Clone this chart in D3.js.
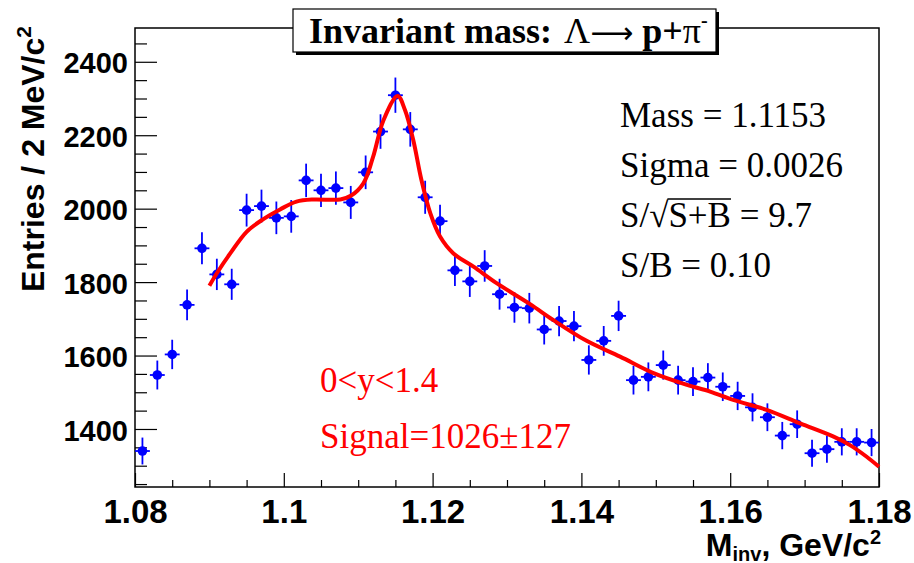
<!DOCTYPE html>
<html>
<head>
<meta charset="utf-8">
<script src="https://cdn.jsdelivr.net/npm/d3@7"></script>
<style>
  body { margin: 0; background: #fff; }
  svg { display: block; }
</style>
</head>
<body>
<svg width="914" height="563"></svg>
<script>
// bin centres (2 MeV bins) and entries
const massBins = [1.081, 1.083, 1.085, 1.087, 1.089, 1.091, 1.093, 1.095, 1.097, 1.099,
                  1.101, 1.103, 1.105, 1.107, 1.109, 1.111, 1.113, 1.115, 1.117, 1.119,
                  1.121, 1.123, 1.125, 1.127, 1.129, 1.131, 1.133, 1.135, 1.137, 1.139,
                  1.141, 1.143, 1.145, 1.147, 1.149, 1.151, 1.153, 1.155, 1.157, 1.159,
                  1.161, 1.163, 1.165, 1.167, 1.169, 1.171, 1.173, 1.175, 1.177, 1.179];
const entries = [1340, 1547, 1603, 1738, 1892, 1821, 1794, 1996, 2007, 1975,
                 1979, 2077, 2050, 2056, 2017, 2099, 2210, 2309, 2216, 2031,
                 1966, 1832, 1802, 1844, 1767, 1731, 1729, 1671, 1694, 1680,
                 1588, 1640, 1708, 1533, 1542, 1574, 1533, 1529, 1540, 1515,
                 1490, 1459, 1432, 1382, 1413, 1334, 1345, 1365, 1365, 1363];

// fit curve
const fitMass = [1.0900, 1.0910, 1.0928, 1.0950, 1.0972, 1.0995, 1.1017, 1.1040, 1.1076, 1.1090,
                 1.1107, 1.1120, 1.1134, 1.1153, 1.1163, 1.1174, 1.1185, 1.1197, 1.1210, 1.1228,
                 1.1255, 1.1286, 1.1331, 1.1362, 1.1407, 1.1452, 1.1497, 1.1542, 1.1573, 1.1604,
                 1.1649, 1.1694, 1.1739, 1.1761, 1.1783, 1.1800];
const fitValue = [1790, 1824, 1878, 1937, 1971, 1998, 2019, 2025, 2025, 2035,
                  2069, 2141, 2241, 2307, 2268, 2187, 2078, 1987, 1924, 1878,
                  1842, 1797, 1740, 1697, 1640, 1597, 1552, 1520, 1502, 1479,
                  1452, 1415, 1379, 1356, 1325, 1297];

const xTicks = [1.08, 1.10, 1.12, 1.14, 1.16, 1.18];
const xTickLabels = ["1.08", "1.1", "1.12", "1.14", "1.16", "1.18"];
const yTicks = [1400, 1600, 1800, 2000, 2200, 2400];
const yTickLabels = ["1400", "1600", "1800", "2000", "2200", "2400"];

const statLines = ["Mass = 1.1153", "Sigma = 0.0026", null, "S/B = 0.10"];

const svg = d3.select("svg");
const fLeft = 135, fRight = 879, fTop = 28, fBottom = 487;
const halfBin = 0.001;

const x = d3.scaleLinear().domain([1.08, 1.18]).range([fLeft, fRight]);
const y = d3.scaleLinear().domain([1242, 2492]).range([fBottom, fTop]);

const sans = "'Liberation Sans', Arial, Helvetica, sans-serif";
const serif = "'Liberation Serif', 'Times New Roman', serif";

svg.append("rect").attr("width", 914).attr("height", 563).attr("fill", "#fff");

// minor ticks
const xMinor = d3.range(1.08, 1.1801, 0.005).filter(v => Math.abs(Math.round(v * 50) - v * 50) > 1e-6);
const yMinor = d3.range(1250, 2492, 50).filter(v => v % 200 !== 0);

svg.append("g")
    .attr("transform", `translate(0, ${fBottom})`)
    .call(d3.axisBottom(x).tickValues(xMinor).tickSize(-7).tickFormat(""))
    .call(g => g.select(".domain").remove())
    .selectAll("line").attr("stroke", "#000").attr("stroke-width", 1.2);

svg.append("g")
    .attr("transform", `translate(${fLeft}, 0)`)
    .call(d3.axisLeft(y).tickValues(yMinor).tickSize(-12).tickFormat(""))
    .call(g => g.select(".domain").remove())
    .selectAll("line").attr("stroke", "#000").attr("stroke-width", 1.2);

// major ticks + labels
const xAxis = svg.append("g")
    .attr("transform", `translate(0, ${fBottom})`)
    .call(d3.axisBottom(x).tickValues(xTicks).tickSize(-14).tickPadding(0)
        .tickFormat((d, i) => xTickLabels[i]))
    .call(g => g.select(".domain").remove());
xAxis.selectAll("line").attr("stroke", "#000").attr("stroke-width", 1.2);
xAxis.selectAll("text")
    .attr("y", 36).attr("dy", 0)
    .attr("fill", "#000")
    .style("font-family", sans).style("font-weight", "bold").style("font-size", "33px");

const yAxis = svg.append("g")
    .attr("transform", `translate(${fLeft}, 0)`)
    .call(d3.axisLeft(y).tickValues(yTicks).tickSize(-22).tickPadding(7)
        .tickFormat((d, i) => yTickLabels[i]))
    .call(g => g.select(".domain").remove());
yAxis.selectAll("line").attr("stroke", "#000").attr("stroke-width", 1.2);
yAxis.selectAll("text")
    .attr("dy", "0.38em")
    .attr("fill", "#000")
    .style("font-family", sans).style("font-weight", "bold").style("font-size", "29px");

// frame
svg.append("rect")
    .attr("x", fLeft).attr("y", fTop)
    .attr("width", fRight - fLeft).attr("height", fBottom - fTop)
    .attr("fill", "none").attr("stroke", "#000").attr("stroke-width", 1.5);

// data points with error bars
const pts = massBins.map((m, i) => ({ m: m, n: entries[i] }));
const pg = svg.append("g");
pg.selectAll(".ey").data(pts).enter().append("line")
    .attr("x1", d => x(d.m)).attr("x2", d => x(d.m))
    .attr("y1", d => y(d.n - Math.sqrt(d.n))).attr("y2", d => y(d.n + Math.sqrt(d.n)))
    .attr("stroke", "#0000ff").attr("stroke-width", 1.8);
pg.selectAll(".ex").data(pts).enter().append("line")
    .attr("x1", d => x(d.m - halfBin)).attr("x2", d => x(d.m + halfBin))
    .attr("y1", d => y(d.n)).attr("y2", d => y(d.n))
    .attr("stroke", "#0000ff").attr("stroke-width", 1.8);
pg.selectAll("circle").data(pts).enter().append("circle")
    .attr("cx", d => x(d.m)).attr("cy", d => y(d.n))
    .attr("r", 4.8).attr("fill", "#0000ff");

// fit
const fitLine = d3.line()
    .x((d, i) => x(fitMass[i]))
    .y(d => y(d))
    .curve(d3.curveCatmullRom.alpha(0.5));
svg.append("path")
    .attr("d", fitLine(fitValue))
    .attr("fill", "none").attr("stroke", "#ff0000").attr("stroke-width", 4)
    .attr("stroke-linejoin", "round");

// title box
const tb = { x: 293, y: 9, w: 423, h: 43 };
svg.append("rect").attr("x", tb.x + 3).attr("y", tb.y + 3).attr("width", tb.w).attr("height", tb.h).attr("fill", "#000");
svg.append("rect").attr("x", tb.x).attr("y", tb.y).attr("width", tb.w).attr("height", tb.h)
    .attr("fill", "#fff").attr("stroke", "#000").attr("stroke-width", 1.2);
const title = svg.append("text")
    .attr("x", 309).attr("y", 43)
    .style("white-space", "pre")
    .style("font-family", serif).style("font-weight", "bold").style("font-size", "36px")
    .attr("fill", "#000");
title.append("tspan").text("Invariant mass: ");
title.append("tspan").attr("dx", 3).style("font-weight", "normal").text("\u039B");
title.append("tspan").style("font-weight", "normal").style("font-family", "'DejaVu Sans', sans-serif")
    .style("font-size", "30px").text("\u27F6");
title.append("tspan").text(" p+");
title.append("tspan").style("font-weight", "normal").text("\u03C0");
title.append("tspan").attr("dy", -16).style("font-size", "20px").text("-");

// y title
const yt = svg.append("text")
    .attr("transform", "translate(44, 26) rotate(-90)")
    .attr("text-anchor", "end")
    .style("font-family", sans).style("font-weight", "bold").style("font-size", "32px")
    .attr("fill", "#000");
yt.append("tspan").text("Entries / 2 MeV/c");
yt.append("tspan").attr("dy", -13).style("font-size", "21px").text("2");

// x title
const xt = svg.append("text")
    .attr("x", 881).attr("y", 556)
    .attr("text-anchor", "end")
    .style("font-family", sans).style("font-weight", "bold").style("font-size", "32px")
    .attr("fill", "#000");
xt.append("tspan").text("M");
xt.append("tspan").attr("dy", 5).style("font-size", "20px").text("inv");
xt.append("tspan").attr("dy", -5).text(", GeV/c");
xt.append("tspan").attr("dy", -12).style("font-size", "20px").text("2");

// fit results
const st = svg.append("g")
    .style("font-family", serif).style("font-size", "35px").attr("fill", "#000");
statLines.forEach((s, i) => {
    if (s === null) return;
    st.append("text").attr("x", 620).attr("y", 127 + i * 50).text(s);
});
const sq = st.append("text").attr("x", 620).attr("y", 227);
sq.append("tspan").text("S/\u221A");
sq.append("tspan").text("S+B");
sq.append("tspan").text(" = 9.7");
const sqNode = sq.node();
const a = sqNode.getSubStringLength(0, 3);
const b = sqNode.getSubStringLength(0, 6);
st.append("line")
    .attr("x1", 620 + a - 1).attr("x2", 620 + b)
    .attr("y1", 199).attr("y2", 199)
    .attr("stroke", "#000").attr("stroke-width", 1.3);

// signal annotation
const ann = svg.append("g")
    .style("font-family", serif).style("font-size", "35px").attr("fill", "#ff0000");
ann.append("text").attr("x", 320).attr("y", 392).text("0<y<1.4");
ann.append("text").attr("x", 320).attr("y", 448).text("Signal=1026\u00B1127");
</script>
</body>
</html>
